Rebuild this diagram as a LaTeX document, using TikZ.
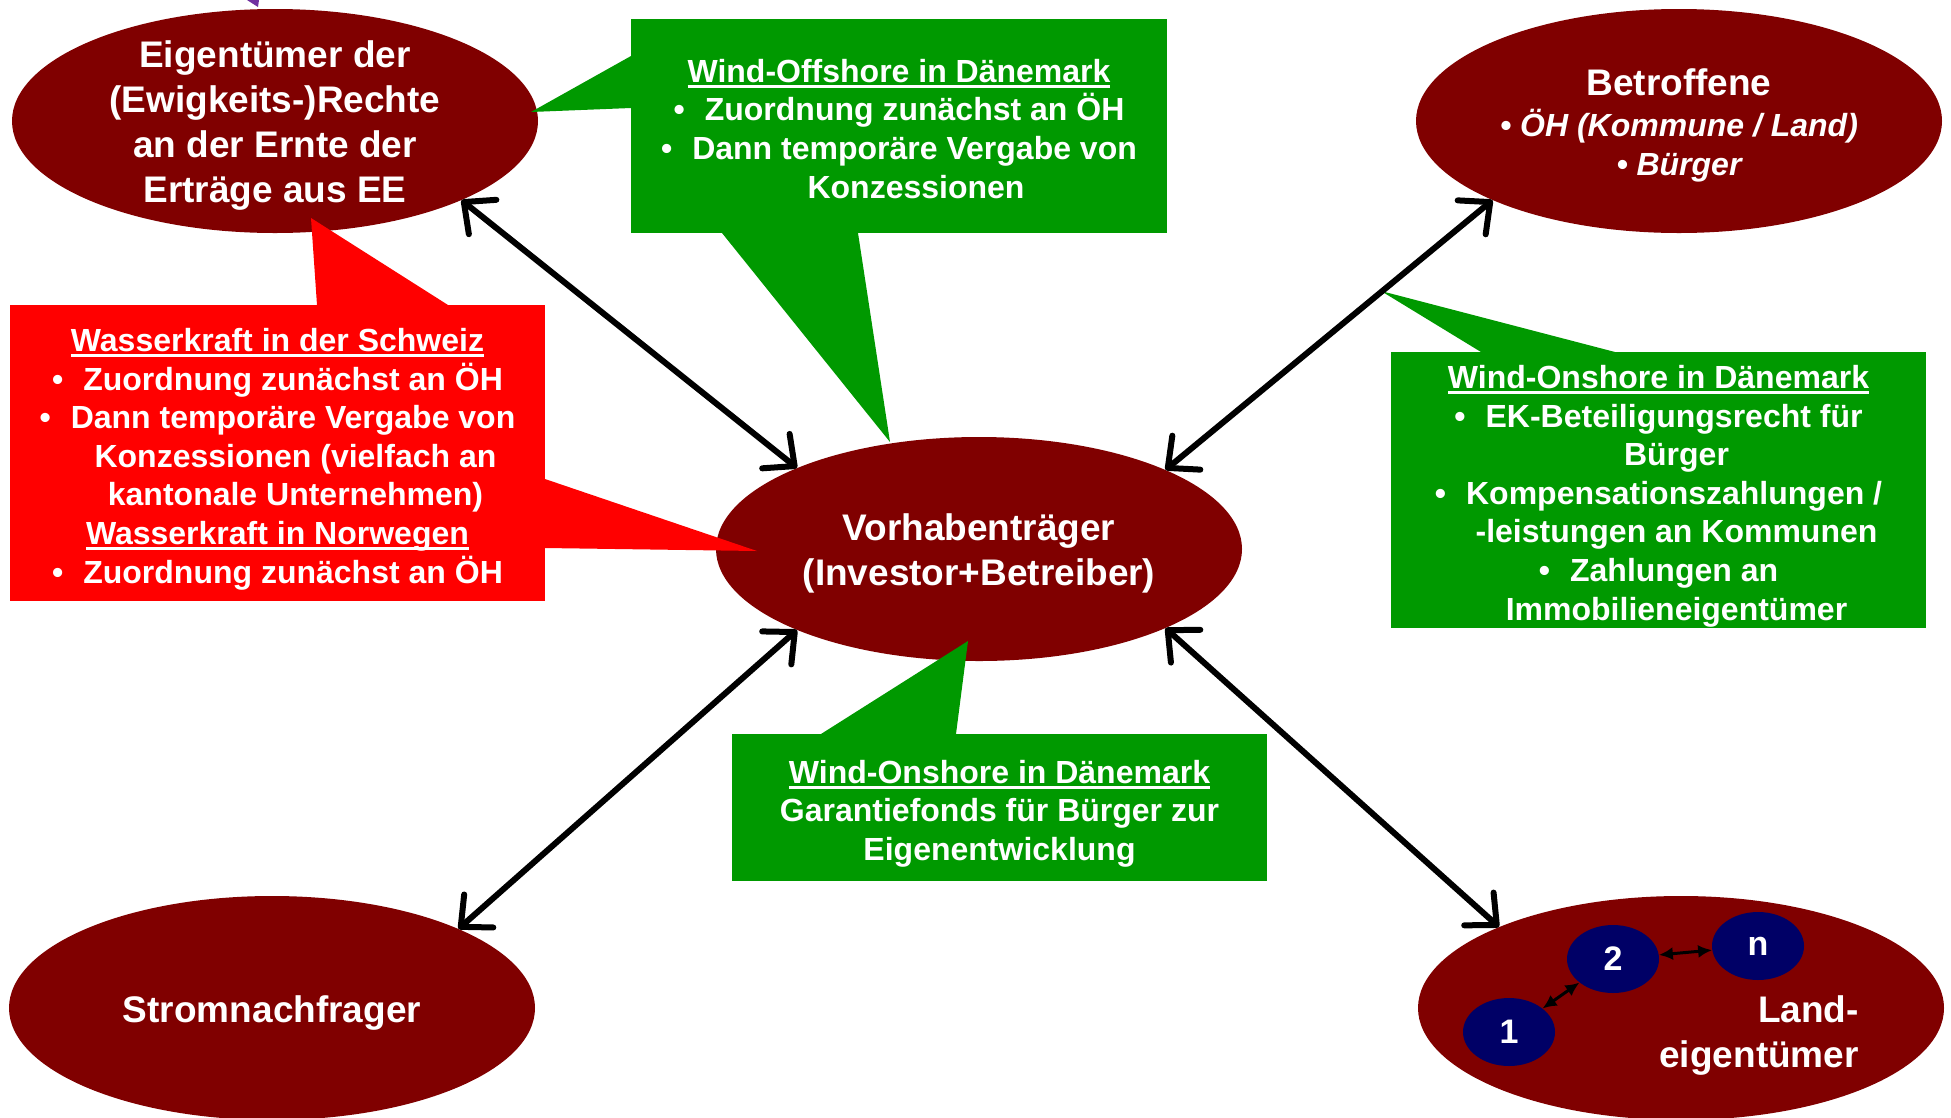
\documentclass[tikz,border=0pt]{standalone}
\usepackage{fontspec}
\setmainfont{Liberation Sans}
\usetikzlibrary{arrows.meta,shapes.geometric}

\definecolor{dunkelrot}{HTML}{800000}
\definecolor{gruen}{HTML}{009900}
\definecolor{hellrot}{HTML}{FF0000}
\definecolor{marine}{HTML}{000066}
\definecolor{lila}{HTML}{7030A0}

\newcommand{\unterstr}[1]{\setbox0\hbox{#1}\rlap{\rule[-5.5pt]{\wd0}{2.5pt}}\box0}
\newcommand{\pkt}{\textbullet\hspace{20pt}}
\newcommand{\oben}{\rule{0pt}{36pt}}
\newcommand{\unten}{\rule[-7.5pt]{0pt}{7.5pt}}

\tikzset{
  blase/.style={ellipse, fill=dunkelrot, minimum width=526pt, minimum height=224pt, inner sep=0pt},
  gross/.style={text=white, align=center, inner sep=0pt, font=\bfseries\fontsize{37}{45}\selectfont},
  kasten/.style={fill=#1, text=white, align=center, inner sep=0pt, font=\bfseries\fontsize{32}{38.6}\selectfont},
  kreis/.style={ellipse, fill=marine, minimum width=92pt, minimum height=68pt, inner sep=0pt, text=white, font=\bfseries\fontsize{34}{40}\selectfont},
  doppelpfeil/.style={line width=6pt, {Straight Barb[length=24pt,width=44pt,round]}-{Straight Barb[length=24pt,width=44pt,round]}},
  kleinpfeil/.style={line width=3pt, {Latex[length=14pt,width=13pt]}-{Latex[length=14pt,width=13pt]}}
}

\begin{document}
\begin{tikzpicture}[x=1pt,y=-1pt]
    \useasboundingbox (0,0) rectangle (1951,1117);

    % Disegna le ellissi degli attori
    \foreach \n/\x/\y in {eig/275/121, betr/1679/121, vor/979/549, strom/272/1008, land/1681/1008} {
        \node[blase] (\n) at (\x,\y) {};
    }
    \node[gross] (eigtext) at (eig) {\oben Eigentümer der\\(Ewigkeits-)Rechte\\an der Ernte der\\Erträge aus EE\unten};
    \node[gross, font=\bfseries\fontsize{32}{39}\selectfont] (betrtext) at (1679,121)
        {\oben{\fontsize{37}{45}\selectfont Betroffene}\\[2pt]{\itshape\textbullet\ ÖH (Kommune / Land)}\\{\itshape\textbullet\ Bürger}\unten};
    \node[gross] (vortext) at (vor) {\oben Vorhabenträger\\(Investor+Betreiber)\unten};
    \node[gross] (stromtext) at (strom) {\oben Stromnachfrager\unten};
    \node[gross, align=right, anchor=east] (landtext) at (1859,1031) {\oben Land-\\eigentümer\unten};

    % Piccolo triangolo viola in alto
    \fill[lila] (247,0) -- (259,0) -- (258,7) -- cycle;

    % Riquadri con le frecce di richiamo
    \node[kasten=gruen, minimum width=536pt, minimum height=214pt] (offshore) at (899,126)
        {\oben\unterstr{Wind-Offshore in Dänemark}\\\pkt Zuordnung zunächst an ÖH\\\pkt Dann temporäre Vergabe von\\\hspace*{34pt}Konzessionen\unten};
    \fill[gruen] (631,56) -- (531,112) -- (631,108) -- cycle;
    \fill[gruen] (722,233) -- (890,442) -- (858,233) -- cycle;

    \node[kasten=hellrot, minimum width=535pt, minimum height=296pt] (wasser) at (277.5,453)
        {\oben\unterstr{Wasserkraft in der Schweiz}\\\pkt Zuordnung zunächst an ÖH\\\pkt Dann temporäre Vergabe von\\\hspace*{36pt}Konzessionen (vielfach an\\\hspace*{36pt}kantonale Unternehmen)\\\unterstr{Wasserkraft in Norwegen}\\\pkt Zuordnung zunächst an ÖH\unten};
    \fill[hellrot] (317,305) -- (311,218) -- (448,305) -- cycle;
    \fill[hellrot] (545,479) -- (757,551) -- (545,548) -- cycle;

    \node[kasten=gruen, minimum width=535pt, minimum height=276pt] (onshore) at (1658.5,490)
        {\oben\unterstr{Wind-Onshore in Dänemark}\\\pkt EK-Beteiligungsrecht für\\\hspace*{36pt}Bürger\\\pkt Kompensationszahlungen /\\\hspace*{36pt}-leistungen an Kommunen\\\pkt Zahlungen an\\\hspace*{36pt}Immobilieneigentümer\unten};
    \fill[gruen] (1481,352) -- (1381,291) -- (1615,352) -- cycle;

    \node[kasten=gruen, minimum width=535pt, minimum height=147pt] (fonds) at (999.5,807.5)
        {\oben\unterstr{Wind-Onshore in Dänemark}\\Garantiefonds für Bürger zur\\Eigenentwicklung\unten};
    \fill[gruen] (821,734) -- (968,641) -- (956,734) -- cycle;

    % Proprietari fondiari 1, 2, n
    \foreach \n/\x/\y/\t in {k1/1509/1032/1, k2/1613/959/2, kn/1758/946/n} {
        \node[kreis] (\n) at (\x,\y) {\t};
    }
    \draw[kleinpfeil] (k1) -- (k2);
    \draw[kleinpfeil] (k2) -- (kn);

    % Frecce doppie verso il Vorhabenträger
    \foreach \a/\b in {eig.-23.5/vor.156.5, betr.-157.5/vor.23.2, strom.23/vor.-156.5, land.156.7/vor.-23.2} {
        \draw[doppelpfeil] (\a) -- (\b);
    }
\end{tikzpicture}
\end{document}
